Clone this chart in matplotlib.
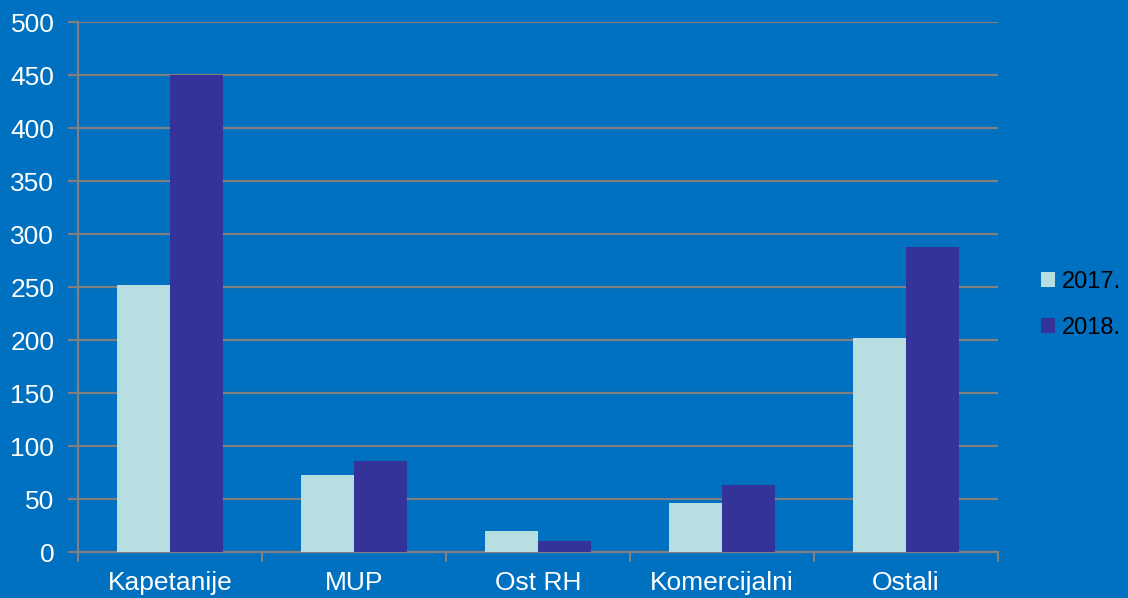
import matplotlib
matplotlib.use('Agg')
import matplotlib.pyplot as plt
import numpy as np

# ── data ──────────────────────────────────────────────────────────────
categories = ['Kapetanije', 'MUP', 'Ost RH', 'Komercijalni', 'Ostali']
series_names = ['2017.', '2018.']
values_2017 = [252, 73, 20, 46, 202]
values_2018 = [450, 86, 10, 63, 288]
y_ticks = [0, 50, 100, 150, 200, 250, 300, 350, 400, 450, 500]

# ── colours ───────────────────────────────────────────────────────────
BG = '#0070C0'
C17 = '#B7DEE1'
C18 = '#333399'
GRID = '#808080'
FS = 19

plt.rcParams['font.family'] = ['Liberation Sans', 'DejaVu Sans']

fig = plt.figure(figsize=(11.28, 5.98), dpi=100)
fig.patch.set_facecolor(BG)
ax = fig.add_axes([0.0691, 0.0769, 0.8157, 0.8863])
ax.set_facecolor(BG)

x = np.arange(len(categories))
w = 1 / 3.5
ax.bar(x - w / 2, values_2017, w, color=C17, label=series_names[0], zorder=3)
ax.bar(x + w / 2, values_2018, w, color=C18, label=series_names[1], zorder=3)

ax.set_xlim(-0.5, len(categories) - 0.5)
ax.set_ylim(0, 500)
ax.set_yticks(y_ticks)
ax.yaxis.grid(True, color=GRID, linewidth=1.6, zorder=0)
ax.set_axisbelow(True)

# labels at centres, tick marks at category boundaries
ax.set_xticks(x)
ax.set_xticklabels(categories)
ax.set_xticks(np.arange(-0.5, len(categories)), minor=True)
ax.tick_params(axis='x', which='major', length=0, pad=14, labelsize=FS, labelcolor='white')
ax.tick_params(axis='x', which='minor', length=7, width=1.6, color=GRID)
ax.tick_params(axis='y', length=7, width=1.6, color=GRID, pad=10, labelsize=FS, labelcolor='white')

for s in ['top', 'right']:
    ax.spines[s].set_visible(False)
for s in ['left', 'bottom']:
    ax.spines[s].set_color(GRID)
    ax.spines[s].set_linewidth(1.6)

leg = ax.legend(loc='center left', bbox_to_anchor=(1.036, 0.466), frameon=False,
                fontsize=17, handlelength=0.6, handleheight=0.6,
                handletextpad=0.3, labelspacing=1.0, borderaxespad=0)

fig.savefig('out.png', dpi=100, facecolor=BG)
